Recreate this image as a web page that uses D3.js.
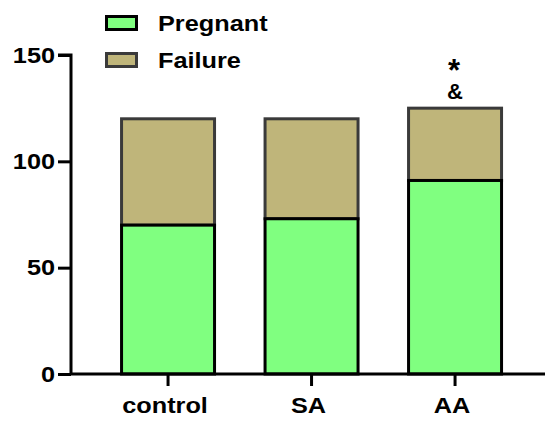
<!DOCTYPE html>
<html>
<head>
<meta charset="utf-8">
<script src="https://cdn.jsdelivr.net/npm/d3@7"></script>
<style>
  body { margin: 0; background: #fff; }
  svg text { font-family: "Liberation Sans", Arial, sans-serif; font-weight: bold; fill: #000; }
</style>
</head>
<body>
<svg id="chart" width="548" height="422"></svg>
<script>
// Groups and outcome counts
const groups = ["control", "SA", "AA"];
const pregnant = [70, 73, 91];
const failure = [50, 47, 34];
const seriesNames = ["Pregnant", "Failure"];
const seriesColors = ["#80FF80", "#BFB57A"];
const seriesStrokes = ["#000", "#3a3a3a"];
const yTicks = [0, 50, 100, 150];
const marks = [{ group: "AA", lines: ["*", "&"] }];

const svg = d3.select("#chart");
const FS = 22;        // label font size
const SX = 1.15;      // horizontal widening of label glyphs

// Place a text at (x, y) with glyphs widened horizontally
function wideText(parent, x, y, str, size, anchor) {
  return parent.append("text")
    .attr("transform", `translate(${x},${y}) scale(${SX},1)`)
    .attr("font-size", size)
    .attr("text-anchor", anchor || "start")
    .text(str);
}

const x = d3.scaleBand()
  .domain(groups)
  .range([78.5, 544.6])
  .paddingInner(0.352)
  .paddingOuter(0.3);

const y = d3.scaleLinear()
  .domain([0, 150])
  .range([374, 55]);

const rows = groups.map((g, i) => ({ group: g, Pregnant: pregnant[i], Failure: failure[i] }));
const stack = d3.stack().keys(seriesNames)(rows);

// Stacked bars: failure segments first, pregnant on top so its black edge shows
const layers = svg.append("g").selectAll("g")
  .data(stack.slice().reverse())
  .join("g")
  .attr("fill", d => seriesColors[seriesNames.indexOf(d.key)])
  .attr("stroke", d => seriesStrokes[seriesNames.indexOf(d.key)])
  .attr("stroke-width", 3);

layers.selectAll("rect")
  .data(d => d)
  .join("rect")
  .attr("x", d => x(d.data.group))
  .attr("width", x.bandwidth())
  .attr("y", d => y(d[1]))
  .attr("height", d => y(d[0]) - y(d[1]));

// Y axis
const yAxis = svg.append("g")
  .attr("transform", "translate(71,0)")
  .call(d3.axisLeft(y).tickValues(yTicks).tickSize(13).tickPadding(3));
yAxis.select(".domain").attr("stroke", "#000").attr("stroke-width", 3)
  .attr("d", `M-13,${y(150)}H0V${y(0)}`);
yAxis.selectAll(".tick line").attr("stroke", "#000").attr("stroke-width", 3);
yAxis.selectAll(".tick text")
  .attr("font-size", FS).attr("font-family", null).attr("fill", "#000")
  .attr("x", -16 / SX)
  .attr("transform", `scale(${SX},1)`);

// X axis
const xAxis = svg.append("g")
  .attr("transform", `translate(0,${y(0)})`)
  .call(d3.axisBottom(x).tickSize(12).tickPadding(11));
xAxis.select(".domain").attr("stroke", "#000").attr("stroke-width", 3)
  .attr("d", "M70,0H545");
xAxis.selectAll(".tick line").attr("stroke", "#000").attr("stroke-width", 3);
xAxis.selectAll(".tick text")
  .attr("font-size", FS).attr("font-family", null).attr("fill", "#000")
  .attr("x", -3 / SX)
  .attr("transform", `scale(${SX},1)`);

// Significance marks above bars: one stacked label per bar
marks.forEach(m => {
  const r = rows.find(d => d.group === m.group);
  const cx = x(m.group) + x.bandwidth() / 2;
  const top = y(r.Pregnant + r.Failure);
  const t = svg.append("text").attr("text-anchor", "middle");
  t.append("tspan").attr("x", cx - 1).attr("y", top - 27)
    .attr("font-size", 31).text(m.lines[0]);
  t.append("tspan").attr("x", cx).attr("y", top - 9)
    .attr("font-size", 22).text(m.lines[1]);
});

// Legend
const legend = svg.append("g");
seriesNames.forEach((name, i) => {
  const ly = 16.5 + i * 37;
  legend.append("rect").attr("x", 106.5).attr("y", ly).attr("width", 30).attr("height", 13)
    .attr("fill", seriesColors[i]).attr("stroke", seriesStrokes[i]).attr("stroke-width", 3);
  wideText(legend, 158, ly + 14, name, FS, "start");
});
</script>
</body>
</html>
